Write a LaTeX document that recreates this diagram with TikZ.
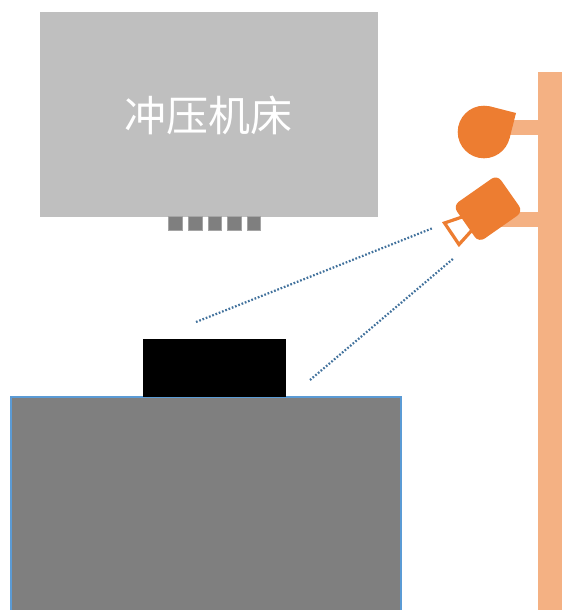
\documentclass[tikz,border=0pt]{standalone}
\usepackage{fontspec}
\newfontfamily\cjk{Noto Sans CJK SC}
\definecolor{pressgray}{HTML}{BFBFBF}
\definecolor{midgray}{HTML}{7F7F7F}
\definecolor{polecol}{HTML}{F4B183}
\definecolor{orangecol}{HTML}{ED7D31}
\definecolor{edgeblue}{HTML}{5B9BD5}
\definecolor{dotblue}{HTML}{41719C}
\tikzset{
  sightline/.style={draw=dotblue,line width=2.2pt,dash pattern=on 1.7pt off 1.8pt},
  pad/.style={fill=midgray,draw=midgray!70!white,line width=0.4pt},
  polefill/.style={fill=polecol},
  orangefill/.style={fill=orangecol}
}
\begin{document}
\begin{tikzpicture}[x=1pt,y=-1pt]
\useasboundingbox (0,0) rectangle (562,610);
% press
\fill[pressgray] (40,12) rectangle (378,217);
\node[text=white,font=\cjk\fontsize{42}{42}\selectfont,inner sep=0pt] (press) at (208.5,115) {冲压机床};
\foreach \x in {168.5,188.2,207.8,227.4,247}
  \draw[pad] (\x,216.5) rectangle (\x+13.5,230.5);
% table and workpiece
\draw[fill=midgray,draw=edgeblue,line width=2pt] (11,397) rectangle (401,612);
\fill[black] (143,339) rectangle (286,397);
% pole and arms
\fill[polefill] (538,72) rectangle (562,610);
\fill[polefill] (505,120) rectangle (538,134.7);
\fill[polefill] (495,212) rectangle (538,227);
% teardrop
\fill[orangefill] (484,132) circle (26.3);
\fill[orangefill] (484,132) -- (490.5,106.5) -- (516,113) -- (509.5,138.5) -- cycle;
% lens and body
\draw[draw=orangecol,fill=white,line width=3.2pt,line join=miter] (465,216) -- (444.5,223) -- (459,244.5) -- (473,229);
\node[orangefill,rounded corners=7pt,minimum width=54pt,minimum height=45pt,inner sep=0pt,rotate=35] (camera) at (488,208.7) {};
% sight lines
\draw[sightline] (196,322) -- (433,228);
\draw[sightline] (310,380) -- (454,258);
\end{tikzpicture}
\end{document}
